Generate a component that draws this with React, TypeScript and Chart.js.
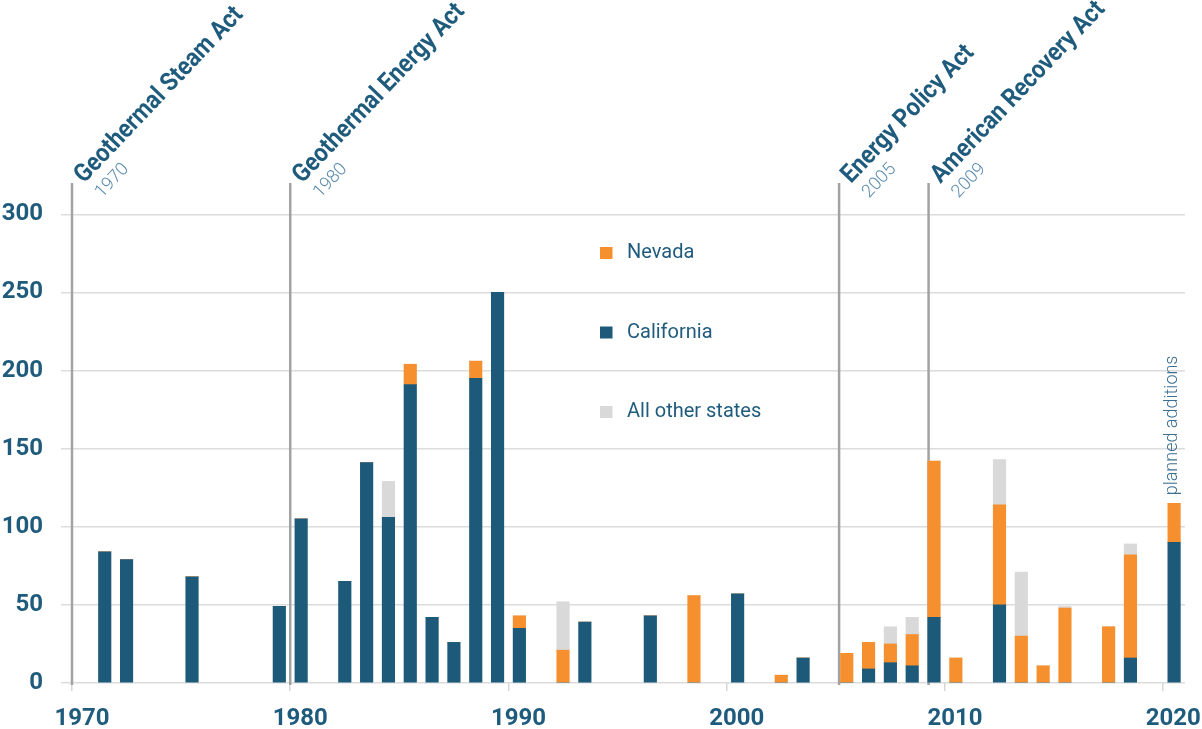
import React, { useEffect, useRef } from "react";
import { Chart, registerables } from "chart.js";

Chart.register(...registerables);

// ---- data ----
const years = [
  1971, 1972, 1975, 1979, 1980, 1982, 1983, 1984, 1985, 1986, 1987, 1988, 1989, 1990, 1992, 1993, 1996,
  1998, 2000, 2002, 2003, 2005, 2006, 2007, 2008, 2009, 2010, 2012, 2013, 2014, 2015, 2017, 2018, 2020,
];
const california = [
  84, 79, 68, 49, 105, 65, 141, 106, 191, 42, 26, 195, 250, 35, 0, 39, 43,
  0, 57, 0, 16, 0, 9, 13, 11, 42, 0, 50, 0, 0, 0, 0, 16, 90,
];
const nevada = [
  0, 0, 0, 0, 0, 0, 0, 0, 13, 0, 0, 11, 0, 8, 21, 0, 0,
  56, 0, 5, 0, 19, 17, 12, 20, 100, 16, 64, 30, 11, 48, 36, 66, 25,
];
const otherStates = [
  0, 0, 0, 0, 0, 0, 0, 23, 0, 0, 0, 0, 0, 0, 31, 0, 0,
  0, 0, 0, 0, 0, 0, 11, 11, 0, 0, 29, 41, 0, 1, 0, 7, 0,
];
const xTickYears = [1970, 1980, 1990, 2000, 2010, 2020];
const yTicks = [0, 50, 100, 150, 200, 250, 300];
const actNames = ["Geothermal Steam Act", "Geothermal Energy Act", "Energy Policy Act", "American Recovery Act"];
const actYears = ["1970", "1980", "2005", "2009"];
const actMarks = [1970, 1980, 2005.15, 2009.25];
const legendLabels = ["Nevada", "California", "All other states"];
const plannedLabel = "planned additions";
const plannedYear = 2020;

// ---- style ----
const CA_COLOR = "#1d5a7a";
const NV_COLOR = "#f68f2e";
const OT_COLOR = "#d9d9d9";
const TEXT = "#1f5b7c";
const TEXT_LIGHT = "#5a8aae";
const FONT = "Roboto";

const actsPlugin = {
  id: "acts",
  beforeDatasetsDraw(chart: any) {
    const { ctx, chartArea, scales } = chart;
    const x = scales.x;
    ctx.save();
    ctx.strokeStyle = "#a2a2a2";
    ctx.lineWidth = 2.5;
    actMarks.forEach((v) => {
      const px = x.getPixelForValue(v);
      ctx.beginPath();
      ctx.moveTo(px, chartArea.top);
      ctx.lineTo(px, chartArea.bottom + 2);
      ctx.stroke();
    });
    ctx.restore();
  },
  afterDraw(chart: any) {
    const { ctx, chartArea, scales } = chart;
    const x = scales.x;
    const ang = (-46.5 * Math.PI) / 180;
    const sx = 0.895;
    actMarks.forEach((v, i) => {
      const px = x.getPixelForValue(v);
      // title
      ctx.save();
      ctx.translate(px + 12, chartArea.top + 1);
      ctx.rotate(ang);
      ctx.scale(sx, 1);
      ctx.textBaseline = "alphabetic";
      ctx.textAlign = "left";
      ctx.fillStyle = TEXT;
      ctx.font = `bold 25.5px ${FONT}`;
      ctx.fillText(actNames[i], 0, 0);
      ctx.restore();
      // year
      ctx.save();
      ctx.translate(px + 30, chartArea.top + 15.5);
      ctx.rotate(ang);
      ctx.textBaseline = "alphabetic";
      ctx.textAlign = "left";
      ctx.fillStyle = TEXT_LIGHT;
      ctx.font = `300 18px ${FONT}`;
      ctx.fillText(actYears[i], 0, 0);
      ctx.restore();
    });
  },
};

const legendPlugin = {
  id: "customLegend",
  afterDraw(chart: any) {
    const { ctx, chartArea } = chart;
    const colors = [NV_COLOR, CA_COLOR, OT_COLOR];
    const lx = chartArea.left + 528;
    const ly0 = chartArea.top + 70;
    ctx.save();
    ctx.font = `400 20px ${FONT}`;
    ctx.textBaseline = "middle";
    ctx.textAlign = "left";
    legendLabels.forEach((lab, i) => {
      const cy = ly0 + i * 79.5;
      ctx.fillStyle = colors[i];
      ctx.fillRect(lx, cy - 6, 12.5, 12);
      ctx.fillStyle = TEXT;
      ctx.fillText(lab, lx + 27, cy);
    });
    ctx.restore();
  },
};

const plannedPlugin = {
  id: "planned",
  afterDraw(chart: any) {
    const { ctx, scales } = chart;
    const idx = years.indexOf(plannedYear);
    const total = california[idx] + nevada[idx] + otherStates[idx];
    const px = scales.x.getPixelForValue(plannedYear + 0.5) - 1.5;
    const py = scales.y.getPixelForValue(total) - 8;
    ctx.save();
    ctx.translate(px, py);
    ctx.rotate(-Math.PI / 2);
    ctx.font = `300 18px ${FONT}`;
    ctx.fillStyle = "#3d6f91";
    ctx.textBaseline = "middle";
    ctx.textAlign = "left";
    ctx.fillText(plannedLabel, 0, 0);
    ctx.restore();
  },
};

export default function App() {
  const ref = useRef<HTMLCanvasElement | null>(null);

  useEffect(() => {
    if (!ref.current) return;
    const mk = (arr: number[]) => years.map((yr, i) => ({ x: yr + 0.5, y: arr[i] }));
    const common = { barThickness: 12.5, borderWidth: 0, stack: "s" };
    const chart = new Chart(ref.current, {
      type: "bar",
      data: {
        datasets: [
          { label: "California", data: mk(california), backgroundColor: CA_COLOR, ...common },
          { label: "Nevada", data: mk(nevada), backgroundColor: NV_COLOR, ...common },
          { label: "All other states", data: mk(otherStates), backgroundColor: OT_COLOR, ...common },
        ] as any,
      },
      options: {
        responsive: false,
        animation: false,
        layout: { padding: { top: 183, right: 17, left: 0, bottom: 0 } },
        plugins: { legend: { display: false }, tooltip: { enabled: false } },
        scales: {
          x: {
            type: "linear",
            min: 1970,
            max: 2021,
            stacked: true,
            offset: false,
            afterBuildTicks: (s: any) => {
              s.ticks = xTickYears.map((v) => ({ value: v }));
            },
            afterFit: (s: any) => {
              s.height = 46;
              s.paddingLeft = 0;
              s.paddingRight = 0;
            },
            ticks: {
              autoSkip: false,
              maxRotation: 0,
              labelOffset: 10,
              padding: 14,
              color: TEXT,
              font: { family: FONT, size: 24, weight: "bold" },
              callback: (v: any) => String(v),
            },
            grid: { offset: false, drawOnChartArea: false, drawTicks: true, tickLength: 8, color: "#d6d6d6", lineWidth: 1.5 },
            border: { display: false },
          },
          y: {
            type: "linear",
            min: 0,
            max: 320,
            stacked: true,
            afterBuildTicks: (s: any) => {
              s.ticks = yTicks.map((v) => ({ value: v }));
            },
            afterFit: (s: any) => {
              s.width = 72;
              s.paddingTop = 0;
              s.paddingBottom = 0;
            },
            ticks: {
              padding: 18,
              color: TEXT,
              font: { family: FONT, size: 24, weight: "bold" },
              callback: (v: any) => String(v),
            },
            grid: { color: "#dcdcdc", lineWidth: 1.5, tickLength: 11 },
            border: { display: false },
          },
        } as any,
      },
      plugins: [actsPlugin, legendPlugin, plannedPlugin],
    });
    return () => chart.destroy();
  }, []);

  return (
    <div style={{ position: "fixed", left: 0, top: 0, width: 1202, height: 729, background: "#fff" }}>
      <canvas ref={ref} width={1202} height={729} style={{ width: 1202, height: 729, display: "block" }} />
    </div>
  );
}
